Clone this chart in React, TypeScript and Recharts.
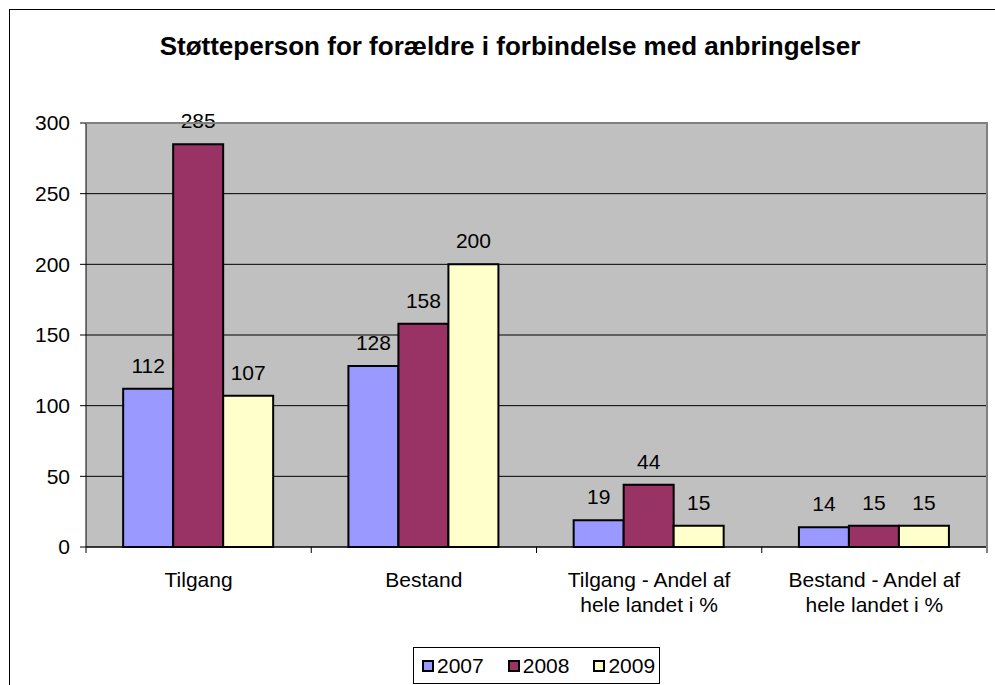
import React from "react";
import { BarChart, Bar, XAxis, YAxis, CartesianGrid, LabelList } from "recharts";

const categories = [
  "Tilgang",
  "Bestand",
  "Tilgang - Andel af hele landet i %",
  "Bestand - Andel af hele landet i %",
];
const values2007 = [112, 128, 19, 14];
const values2008 = [285, 158, 44, 15];
const values2009 = [107, 200, 15, 15];
const yTicks = [0, 50, 100, 150, 200, 250, 300];

const series = [
  { key: "y2007", name: "2007", color: "#9999ff" },
  { key: "y2008", name: "2008", color: "#993366" },
  { key: "y2009", name: "2009", color: "#ffffcc" },
];

const data = categories.map((c, i) => ({
  category: c,
  y2007: values2007[i],
  y2008: values2008[i],
  y2009: values2009[i],
}));

const FONT = "'Liberation Sans', Arial, sans-serif";
const W = 995;
const H = 685;
const MARGIN = { top: 123, right: 8, left: 0, bottom: 108 };
const Y_W = 86;
const BAND = (W - MARGIN.right - Y_W) / categories.length;

// greedy word wrap by character count
function wrap(label: string, maxChars: number) {
  const lines: string[] = [];
  let cur = "";
  for (const w of label.split(" ")) {
    const next = cur ? cur + " " + w : w;
    if (next.length > maxChars && cur) {
      lines.push(cur);
      cur = w;
    } else {
      cur = next;
    }
  }
  if (cur) lines.push(cur);
  return lines;
}

function CategoryTick(props: any) {
  const { x, y, payload, index } = props;
  const lines = wrap(String(payload.value), 18);
  const axisY = y - 8;
  const half = BAND / 2;
  return (
    <g>
      <line x1={x - half} x2={x - half} y1={axisY} y2={axisY + 6} stroke="#000" />
      {index === categories.length - 1 && (
        <line x1={x + half} x2={x + half} y1={axisY} y2={axisY + 6} stroke="#000" />
      )}
      <text x={x} y={y + 32} textAnchor="middle" fontSize={21} fontFamily={FONT} fill="#000">
        {lines.map((l, i) => (
          <tspan key={i} x={x} dy={i === 0 ? 0 : 25}>
            {l}
          </tspan>
        ))}
      </text>
    </g>
  );
}

function LegendBox() {
  return (
    <div
      style={{
        position: "absolute",
        left: 413,
        top: 647,
        border: "1px solid #000",
        background: "#fff",
        height: 37,
        width: 247,
        display: "flex",
        alignItems: "center",
        paddingLeft: 8,
        gap: 24,
        fontFamily: FONT,
        fontSize: 21,
        boxSizing: "border-box",
      }}
    >
      {series.map((s) => (
        <span key={s.key} style={{ display: "flex", alignItems: "center" }}>
          <span
            style={{
              display: "inline-block",
              width: 8,
              height: 8,
              background: s.color,
              border: "2px solid #000",
              marginRight: 3,
            }}
          />
          {s.name}
        </span>
      ))}
    </div>
  );
}

export default function App() {
  return (
    <div style={{ position: "absolute", left: 0, top: 0, width: W, height: H, overflow: "hidden", background: "#fff" }}>
      <div
        style={{
          position: "absolute",
          left: 9,
          top: 9,
          width: 1000,
          height: 700,
          border: "1px solid #000",
          boxSizing: "border-box",
        }}
      />
      <div
        style={{
          position: "absolute",
          left: 0,
          top: 31,
          width: 1020,
          textAlign: "center",
          fontFamily: FONT,
          fontWeight: "bold",
          fontSize: 26,
        }}
      >
        Støtteperson for forældre i forbindelse med anbringelser
      </div>
      <div style={{ position: "absolute", left: 0, top: 0 }}>
        <BarChart
          width={W}
          height={H}
          data={data}
          margin={MARGIN}
          barGap={0}
          barCategoryGap="16.5%"
        >
          <CartesianGrid vertical={false} stroke="#000" strokeWidth={1} fill="#c0c0c0" />
          <XAxis
            dataKey="category"
            interval={0}
            height={30}
            tickLine={false}
            tickSize={6}
            axisLine={{ stroke: "#000", strokeWidth: 1 }}
            tick={<CategoryTick />}
          />
          <YAxis
            width={Y_W}
            domain={[0, 300]}
            ticks={yTicks}
            interval={0}
            tickLine={{ stroke: "#000" }}
            tickSize={6}
            tickMargin={10}
            axisLine={{ stroke: "#000" }}
            tick={{ fill: "#000", fontSize: 21, fontFamily: FONT }}
          />
          {series.map((s) => (
            <Bar
              key={s.key}
              dataKey={s.key}
              name={s.name}
              fill={s.color}
              stroke="#000"
              strokeWidth={2}
              isAnimationActive={false}
            >
              <LabelList
                dataKey={s.key}
                position="top"
                offset={16}
                fill="#000"
                fontSize={21}
                fontFamily={FONT}
              />
            </Bar>
          ))}
        </BarChart>
      </div>
      <div
        style={{
          position: "absolute",
          left: 86,
          top: 122,
          width: 902,
          height: 426,
          borderTop: "2px solid #808080",
          borderRight: "2px solid #808080",
          boxSizing: "border-box",
          pointerEvents: "none",
        }}
      />
      <LegendBox />
    </div>
  );
}
